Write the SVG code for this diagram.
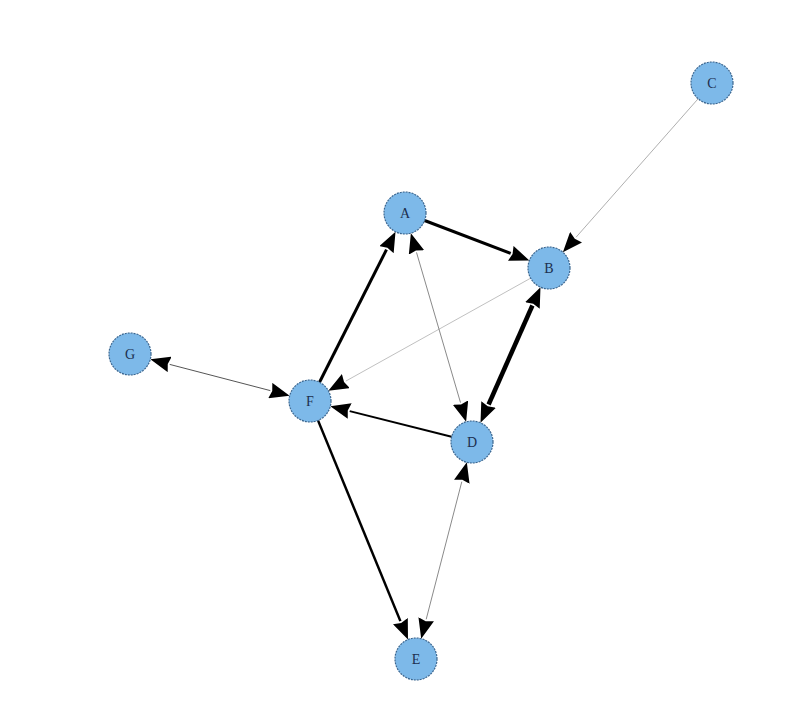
<svg xmlns="http://www.w3.org/2000/svg" width="797" height="717" viewBox="0 0 797 717">
<style>
.node circle{fill:#7db9e9;stroke:#3a6690;stroke-width:1.2;stroke-dasharray:2,1}
.node text{font-family:"Liberation Serif",serif;font-size:14px;fill:#1c2f4f;text-anchor:middle;dominant-baseline:central}
.e{fill:none;stroke-linecap:butt}
.one{marker-end:url(#ah)}
.two{marker-start:url(#ah);marker-end:url(#ah)}
</style>
<defs>
<marker id="ah" markerUnits="userSpaceOnUse" markerWidth="20" markerHeight="16" viewBox="0 0 20 16" refX="0" refY="8" orient="auto-start-reverse">
<path d="M0,0 L20,8 L0,16 L2,8 z" fill="#000"/>
</marker>
</defs>
<rect width="797" height="717" fill="#fff"/>
<g id="edges">
<path class="e one" d="M698.1,98.8 L576.1,237.2" stroke="#9a9a9a" stroke-width="0.8"/>
<path class="e one" d="M530.6,278.2 L345.8,381.1" stroke="#b0b0b0" stroke-width="0.8"/>
<path class="e two" d="M416.5,252.4 L460.5,402.6" stroke="#8a8a8a" stroke-width="1"/>
<path class="e two" d="M169.7,364.4 L270.3,390.6" stroke="#555" stroke-width="1"/>
<path class="e two" d="M461.8,481.7 L426.2,619.3" stroke="#8a8a8a" stroke-width="1"/>
<path class="e one" d="M424.6,220.5 L510.7,253.4" stroke="#000" stroke-width="3"/>
<path class="e one" d="M319.5,382.3 L386.5,249.6" stroke="#000" stroke-width="3"/>
<path class="e two" d="M532.4,305.5 L488.6,404.5" stroke="#000" stroke-width="4.5"/>
<path class="e one" d="M451.6,436.8 L349.7,411.1" stroke="#000" stroke-width="2"/>
<path class="e one" d="M318.0,420.4 L400.4,621.1" stroke="#000" stroke-width="2.5"/>
</g>
<g id="A" class="node"><circle cx="405" cy="213" r="21"/><text x="405" y="213">A</text></g>
<g id="B" class="node"><circle cx="549" cy="268" r="21"/><text x="549" y="268">B</text></g>
<g id="C" class="node"><circle cx="712" cy="83" r="21"/><text x="712" y="83">C</text></g>
<g id="D" class="node"><circle cx="472" cy="442" r="21"/><text x="472" y="442">D</text></g>
<g id="E" class="node"><circle cx="416" cy="659" r="21"/><text x="416" y="659">E</text></g>
<g id="F" class="node"><circle cx="310" cy="401" r="21"/><text x="310" y="401">F</text></g>
<g id="G" class="node"><circle cx="130" cy="354" r="21"/><text x="130" y="354">G</text></g>
</svg>
